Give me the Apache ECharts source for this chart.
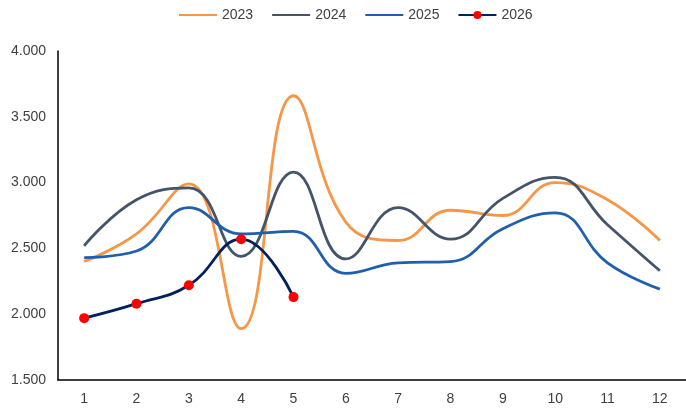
<!DOCTYPE html>
<html>
<head>
<meta charset="utf-8">
<script src="https://cdn.jsdelivr.net/npm/echarts@6/dist/echarts.min.js"></script>
<style>
  html, body { margin: 0; padding: 0; background: #fff; }
  #main { width: 686px; height: 417px; }
</style>
</head>
<body>
<div id="main"></div>
<script>
var months = ['1', '2', '3', '4', '5', '6', '7', '8', '9', '10', '11', '12'];
var y2023 = [2400, 2610, 2990, 1890, 3660, 2700, 2560, 2790, 2750, 3000, 2870, 2560];
var y2024 = [2520, 2870, 2960, 2440, 3080, 2420, 2810, 2570, 2880, 3040, 2680, 2330];
var y2025 = [2430, 2480, 2810, 2610, 2630, 2310, 2390, 2400, 2650, 2770, 2390, 2190];
var y2026 = [1970, 2080, 2220, 2570, 2130];

var chart = echarts.init(document.getElementById('main'));

function lineSeries(name, data, color) {
    return {
        name: name,
        type: 'line',
        data: data,
        smooth: 0.45,
        symbol: 'none',
        lineStyle: { color: color, width: 2.8 },
        itemStyle: { color: color }
    };
}

chart.setOption({
    animation: false,
    textStyle: { fontFamily: 'Liberation Sans, Arial, sans-serif' },
    legend: {
        top: 3,
        left: 173,
        itemWidth: 38,
        itemHeight: 10,
        itemGap: 18,
        textStyle: { color: '#404040', fontSize: 14 },
        data: [
            { name: '2023', itemStyle: { opacity: 0 } },
            { name: '2024', itemStyle: { opacity: 0 } },
            { name: '2025', itemStyle: { opacity: 0 } },
            { name: '2026' }
        ]
    },
    grid: { left: 58, top: 51, width: 630, height: 329 },
    xAxis: {
        type: 'category',
        data: months,
        boundaryGap: true,
        axisLine: { lineStyle: { color: '#000', width: 1.5 } },
        axisTick: { show: false },
        axisLabel: { color: '#404040', fontSize: 14, margin: 12 }
    },
    yAxis: {
        type: 'value',
        min: 1500,
        max: 4000,
        interval: 500,
        axisLine: { show: true, lineStyle: { color: '#000', width: 1.5 } },
        axisTick: { show: false },
        splitLine: { show: false },
        axisLabel: {
            color: '#404040',
            fontSize: 14,
            margin: 12,
            formatter: function (v) {
                return (v / 1000).toFixed(3);
            }
        }
    },
    series: [
        lineSeries('2023', y2023, '#F79646'),
        lineSeries('2024', y2024, '#44546A'),
        lineSeries('2025', y2025, '#1F5FAD'),
        {
            name: '2026',
            type: 'line',
            data: y2026,
            smooth: 0.45,
            symbol: 'circle',
            symbolSize: 10,
            lineStyle: { color: '#002060', width: 2.8 },
            itemStyle: { color: '#FF0000' }
        }
    ]
});
window.onresize = chart.resize;
</script>
</body>
</html>
